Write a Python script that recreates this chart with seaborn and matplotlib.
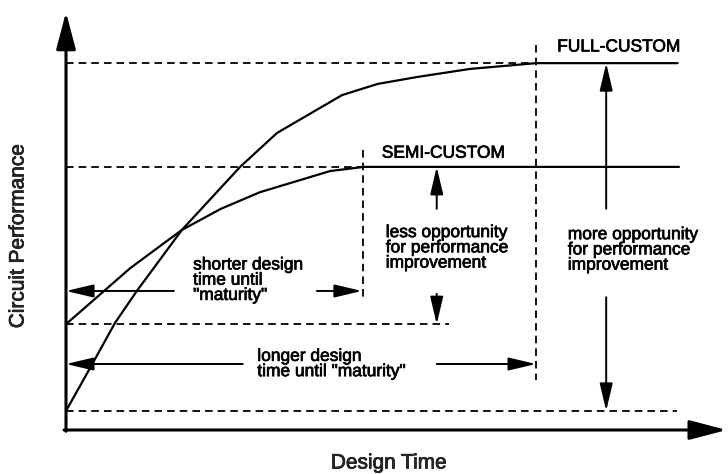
import matplotlib
matplotlib.use("Agg")
import matplotlib.pyplot as plt
import matplotlib.patheffects as pe
import pandas as pd
import seaborn as sns

# design time (x) vs circuit performance (y), arbitrary 0-10 units
full_x = [0, 0.39, 0.74, 1.07, 1.75, 2.63, 3.19, 4.17, 4.71, 5.32, 6.10, 7.10, 9.24]
full_y = [0.46, 1.57, 2.58, 3.35, 4.82, 6.34, 7.16, 8.07, 8.34, 8.51, 8.70, 8.84, 8.84]
semi_x = [0, 0.97, 1.75, 2.34, 2.93, 3.99, 4.50, 9.26]
semi_y = [2.55, 3.90, 4.82, 5.33, 5.73, 6.24, 6.34, 6.34]

full_start, full_max, full_mature = 0.46, 8.84, 7.10
semi_start, semi_max, semi_mature = 2.55, 6.34, 4.49

# annotation arrows: (x_tail, y_tail, x_head, y_head)
time_arrows = [(1.63, 3.35, 0, 3.35), (3.79, 3.35, 4.47, 3.35),
               (2.67, 1.59, 0, 1.59), (5.60, 1.59, 7.10, 1.59)]
perf_arrows = [(5.60, 5.33, 5.60, semi_max), (5.60, 3.28, 5.60, semi_start),
               (8.16, 5.33, 8.16, full_max), (8.16, 3.20, 8.16, full_start)]

labels = [(7.42, 9.23, "FULL-CUSTOM"),
          (4.77, 6.67, "SEMI-CUSTOM"),
          (4.83, 4.39, "less opportunity\nfor performance\nimprovement"),
          (7.58, 4.34, "more opportunity\nfor performance\nimprovement"),
          (1.92, 3.61, 'shorter design\ntime until\n"maturity"'),
          (2.89, 1.59, 'longer design\ntime until "maturity"')]

sns.set_theme(style="white")
plt.rcParams["font.family"] = ["Liberation Sans", "DejaVu Sans"]

fig = plt.figure(figsize=(7.28, 4.74), dpi=100)
ax = fig.add_axes([66 / 728, 44 / 474, 662 / 728, 415 / 474])
ax.set_xlim(0, 10)
ax.set_ylim(0, 10)
ax.axis("off")

full = pd.DataFrame({"t": full_x, "perf": full_y})
semi = pd.DataFrame({"t": semi_x, "perf": semi_y})
sns.lineplot(data=full, x="t", y="perf", color="black", lw=1.6, sort=False, estimator=None, ax=ax)
sns.lineplot(data=semi, x="t", y="perf", color="black", lw=1.6, sort=False, estimator=None, ax=ax)

dash = dict(color="black", lw=1.3, ls=(0, (4.2, 2.8)), clip_on=False)
ax.plot([0, full_mature], [full_max, full_max], **dash)
ax.plot([0, semi_mature], [semi_max, semi_max], **dash)
ax.plot([0, 5.79], [semi_start, semi_start], **dash)
ax.plot([0, 9.23], [full_start, full_start], **dash)
ax.plot([semi_mature, semi_mature], [6.75, 3.13], **dash)
ax.plot([full_mature, full_mature], [9.28, 1.20], **dash)

# axes with arrow heads
big = dict(arrowstyle="-|>,head_length=1.9,head_width=0.5", color="black", lw=2.2,
           shrinkA=0, shrinkB=0)
ax.annotate("", xy=(0, 10.07), xytext=(0, -0.03), arrowprops=big, annotation_clip=False)
ax.annotate("", xy=(9.98, 0), xytext=(-0.03, 0), arrowprops=big, annotation_clip=False)

small = dict(arrowstyle="-|>,head_length=1.4,head_width=0.33", color="black", lw=1.4,
             shrinkA=0, shrinkB=0)
for x0, y0, x1, y1 in time_arrows + perf_arrows:
    ax.annotate("", xy=(x1, y1), xytext=(x0, y0), arrowprops=small, annotation_clip=False)

# scanned print looks a bit heavier than plain regular weight
heavy = [pe.withStroke(linewidth=0.5, foreground="black")]
for x, y, s in labels:
    ax.text(x, y, s, ha="left", va="center", fontsize=12.5, linespacing=1.02,
            color="black", path_effects=heavy)

fig.text(389 / 728, 1 - 463 / 474, "Design Time", ha="center", va="center",
         fontsize=15, path_effects=heavy)
fig.text(18 / 728, 1 - 236 / 474, "Circuit Performance", ha="center", va="center",
         fontsize=15, rotation=90, path_effects=heavy)

fig.savefig("out.png", dpi=100)
